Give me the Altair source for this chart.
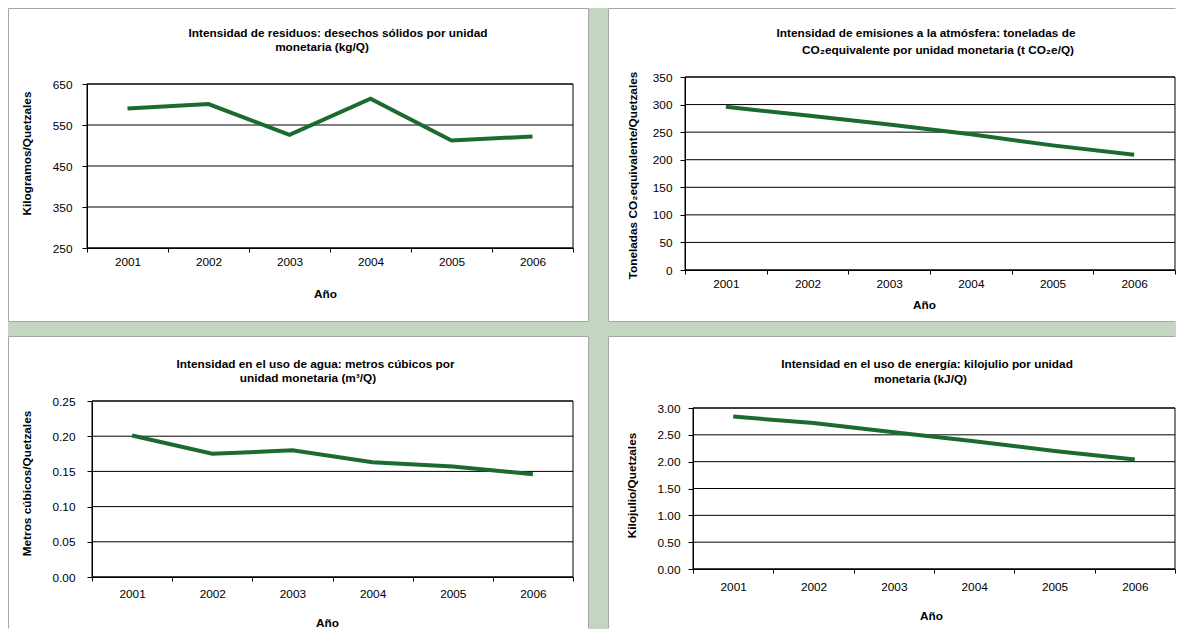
import altair as alt
import pandas as pd

# ---------------- data ----------------
years = ["2001", "2002", "2003", "2004", "2005", "2006"]
residuos = [590, 601, 526, 614, 512, 522]
emisiones = [296, 280, 264, 246, 226, 209]
agua = [0.201, 0.175, 0.180, 0.163, 0.157, 0.146]
energia = [2.84, 2.72, 2.55, 2.38, 2.20, 2.04]

ticks_residuos = [250, 350, 450, 550, 650]
ticks_emisiones = [0, 50, 100, 150, 200, 250, 300, 350]
ticks_agua = [0.0, 0.05, 0.10, 0.15, 0.20, 0.25]
ticks_energia = [0.0, 0.5, 1.0, 1.5, 2.0, 2.5, 3.0]

titles_residuos = ["Intensidad de residuos: desechos sólidos por unidad", "monetaria (kg/Q)"]
titles_emisiones = ["Intensidad de emisiones a la atmósfera: toneladas de",
                    "CO₂equivalente por unidad monetaria (t CO₂e/Q)"]
titles_agua = ["Intensidad en el uso de agua: metros cúbicos por", "unidad monetaria (m³/Q)"]
titles_energia = ["Intensidad en el uso de energía: kilojulio por unidad", "monetaria (kJ/Q)"]

FONT = "Liberation Sans"
FS = 11.8
LINE = "#1b6b30"
BG = "#c4d6c1"
BORDER = "#a6a6a6"


def panel(values, ticks, fmt, titles, title_pos, ytitle, w, h, plot, box, sides,
          ylab_pad, xlab_pad, ytitle_xy, xtitle_xy):
    # plot = (x0, x1, y0, y1): visible plot rectangle inside the group
    x0, x1, y0, y1 = plot
    df = pd.DataFrame({"year": years, "value": values})
    gdf = pd.DataFrame({"value": ticks})
    one = pd.DataFrame({"k": [0]})
    L, R, T, B = box

    def ydef():
        return alt.Y(
            "value:Q",
            scale=alt.Scale(domain=[ticks[0], ticks[-1]], nice=False, zero=False,
                            range=[y1, y0]),
            axis=alt.Axis(title=ytitle, values=ticks, format=fmt, tickSize=5,
                          offset=-x0, labelPadding=ylab_pad, labelFont=FONT,
                          labelFontSize=FS, labelColor="black", tickColor="black",
                          domainColor="black", titleFont=FONT, titleFontSize=FS,
                          titleFontWeight="bold", titleColor="black",
                          titleX=ytitle_xy[0], titleY=ytitle_xy[1], titleAngle=270,
                          titleBaseline="middle", titleAlign="center",
                          grid=False, zindex=1))

    layers = [alt.Chart(one).mark_rect(fill="white", strokeWidth=0).encode(
        x=alt.value(L), x2=alt.value(R), y=alt.value(T), y2=alt.value(B))]
    for s in sides:
        if s == "L":
            enc = dict(x=alt.value(L + 0.5), y=alt.value(T + 0.5), y2=alt.value(B - 0.5))
        elif s == "R":
            enc = dict(x=alt.value(R - 0.5), y=alt.value(T + 0.5), y2=alt.value(B - 0.5))
        elif s == "T":
            enc = dict(y=alt.value(T + 0.5), x=alt.value(L + 0.5), x2=alt.value(R - 0.5))
        else:
            enc = dict(y=alt.value(B - 0.5), x=alt.value(L + 0.5), x2=alt.value(R - 0.5))
        layers.append(alt.Chart(one).mark_rule(color=BORDER, strokeWidth=1).encode(**enc))

    grid = alt.Chart(gdf).mark_rule(color="black", strokeWidth=1).encode(
        y=ydef(), x=alt.value(x0), x2=alt.value(x1))
    frame = alt.Chart(one).mark_rect(filled=False, stroke="black", strokeWidth=1).encode(
        x=alt.value(x0), x2=alt.value(x1), y=alt.value(y0), y2=alt.value(y1))

    line = alt.Chart(df).mark_line(color=LINE, strokeWidth=4).encode(
        x=alt.X("year:O", bandPosition=0.5,
                scale=alt.Scale(type="band", paddingInner=0, paddingOuter=0,
                                range=[x0, x1]),
                axis=alt.Axis(title="Año", tickBand="extent", labelAngle=0, tickSize=4,
                              labelPadding=xlab_pad, labelFont=FONT, labelFontSize=FS,
                              labelColor="black", tickColor="black", domainColor="black",
                              titleFont=FONT, titleFontSize=FS, titleFontWeight="bold",
                              titleColor="black", titleX=xtitle_xy[0], titleY=xtitle_xy[1],
                              titleBaseline="middle", titleAlign="center",
                              grid=False, zindex=1)),
        y=ydef())

    texts = []
    for t, (tx, ty) in zip(titles, title_pos):
        texts.append(alt.Chart(one).mark_text(
            font=FONT, fontSize=FS, fontWeight="bold", color="black",
            align="center", baseline="alphabetic").encode(
            x=alt.value(tx), y=alt.value(ty), text=alt.value(t)))

    return alt.layer(*layers, grid, frame, line, *texts).properties(width=w, height=h)


p1 = panel(residuos, ticks_residuos, "d", titles_residuos, [(251, -40), (235, -26)],
           "Kilogramos/Quetzales", 486, 171, (0, 486, 7, 171),
           (-79, 502, -69, 245), "LTRB", 10, 4, (-61, 76), (238, 45))
p2 = panel(emisiones, ticks_emisiones, "d", titles_emisiones, [(241, -40), (253, -23)],
           "Toneladas CO₂equivalente/Quetzales", 490, 193, (0, 490, 0, 193),
           (-77, 491, -69, 245), "LTB", 8, 4, (-53, 98), (239, 34))
p3 = panel(agua, ticks_agua, ".2f", titles_agua, [(228.5, -33), (221, -19)],
           "Metros cúbicos/Quetzales", 486, 176, (5, 486, 0, 176),
           (-79, 502, -65, 228), "LTR", 12, 7, (-66, 82), (240, 45))
p4 = panel(energia, ticks_energia, ".2f", titles_energia, [(242, -40.5), (235.5, -25)],
           "Kilojulio/Quetzales", 490, 161, (8, 490, 0, 161),
           (-77, 491, -72, 221), "LT", 8, 8, (-62, 77), (246, 46))

left = alt.vconcat(p1, p3, spacing=14)
right = alt.vconcat(p2, p4, spacing=14)
chart = alt.hconcat(left, right, spacing=19).properties(
    padding=0, background=BG).configure_view(strokeWidth=0)

chart.save("out.html", embed_options={"renderer": "svg", "actions": False})
